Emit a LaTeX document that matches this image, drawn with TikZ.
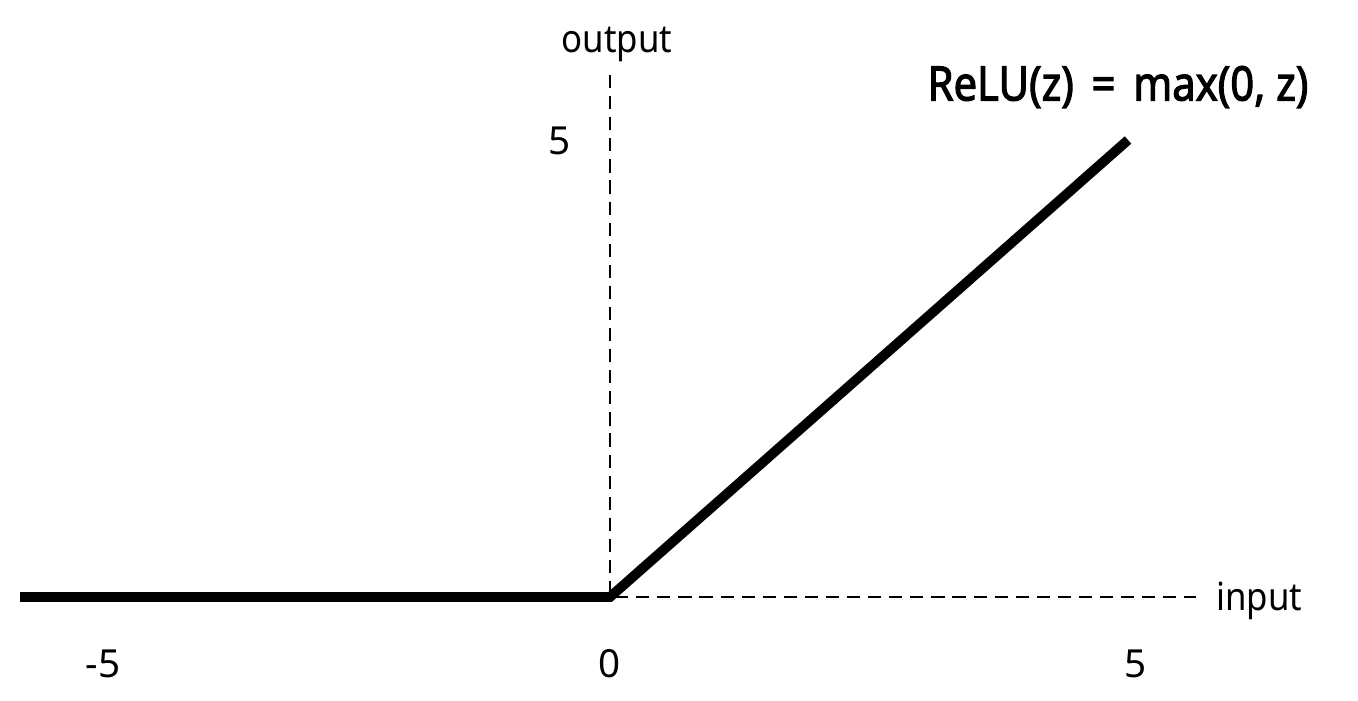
\documentclass[tikz,border=0pt]{standalone}
\usepackage{fontspec}
\setmainfont{Noto Sans}
\newfontfamily\titlefont[AutoFakeBold=2.5]{Noto Sans}
\begin{document}
\begin{tikzpicture}[x=0.02cm, y=-0.02cm]
\tikzstyle{every node}=[font=\fontsize{22}{26}\selectfont, inner sep=0pt]
\tikzset{axisline/.style={line width=1pt, dash pattern=on 7.5pt off 4.5pt},
         relu/.style={line width=5.6pt}}
\useasboundingbox (0, 0) rectangle (1358, 700);
\coordinate  (O) at  (610, 597);
\coordinate  (L) at  (20, 597);
\coordinate  (R) at  (1128, 140);
\coordinate  (ytop) at  (610, 75);
\coordinate  (xend) at  (1196, 597);

\draw [axisline]  (ytop) --  (O) --  (xend); % 坐标轴
\node (ylab) at  (617, 44) {\scalebox{0.9}[1]{output}};
\node (xlab) [right] at  (1216, 601) {\scalebox{0.9}[1]{input}};
\node (y5) at  (560, 141) {5};
\node (xm5) at  (103, 664) {-5};
\node (x0) at  (610, 664) {0};
\node (x5) at  (1136, 664) {5};

\draw [relu]  (L) --  (O) --  (R); % ReLU
\node (title) at  (1118, 87) {\fontsize{27}{30}\selectfont\titlefont\bfseries\scalebox{0.88}[1]{ReLU(z) \,=\, max(0, z)}};
\end{tikzpicture}
\end{document}
